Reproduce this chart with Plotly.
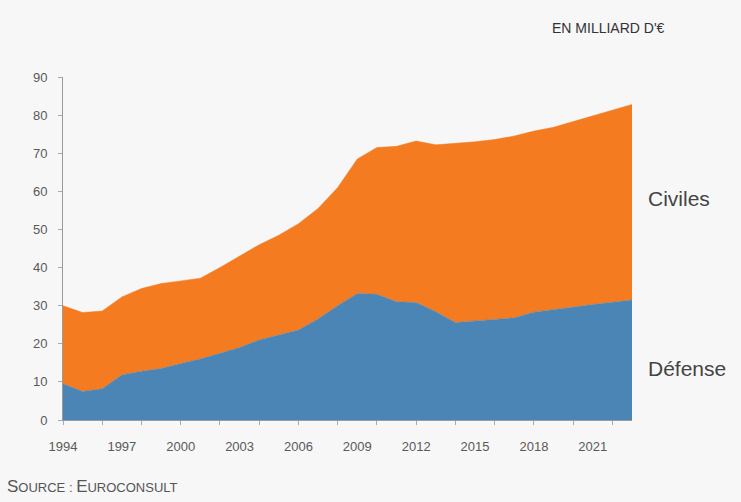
import plotly.graph_objects as go

# Dépenses spatiales institutionnelles mondiales, en milliards d'euros
annees = list(range(1994, 2024))
defense = [9.5, 7.5, 8.2, 11.8, 12.8, 13.5, 14.8, 16.0, 17.5, 19.0,
           21.0, 22.3, 23.6, 26.5, 30.0, 33.2, 33.0, 31.0, 30.8, 28.4,
           25.6, 26.0, 26.4, 26.8, 28.3, 29.0, 29.7, 30.3, 30.9, 31.5]
civiles = [20.5, 20.7, 20.4, 20.5, 21.7, 22.3, 21.7, 21.2, 22.5, 24.0,
           25.0, 26.2, 27.9, 29.0, 31.0, 35.3, 38.5, 40.8, 42.4, 43.8,
           46.9, 47.0, 47.2, 47.7, 47.5, 47.8, 48.6, 49.5, 50.3, 51.3]
annees_etiquetees = list(range(1994, 2024, 3))
annees_graduees = list(range(1994, 2024, 2))
y_ticks = list(range(0, 100, 10))

BLEU = "#4a85b6"
ORANGE = "#f47b20"
GRIS = "#5a5a5a"
FOND = "#f7f7f7"

fig = go.Figure()
fig.add_trace(go.Scatter(
    x=annees, y=defense, name="Défense", stackgroup="s",
    mode="lines", line=dict(width=0.5, color=BLEU), fillcolor=BLEU,
))
fig.add_trace(go.Scatter(
    x=annees, y=civiles, name="Civiles", stackgroup="s",
    mode="lines", line=dict(width=0.5, color=ORANGE), fillcolor=ORANGE,
))

police = "Liberation Sans, Arial, sans-serif"

fig.update_layout(
    width=741, height=502,
    margin=dict(l=63, r=109, t=77, b=82),
    paper_bgcolor=FOND, plot_bgcolor=FOND,
    showlegend=False,
    font=dict(family=police, color=GRIS, size=13),
    xaxis=dict(
        range=[1994, 2023], tickmode="array", tickvals=annees_etiquetees,
        ticktext=[str(a) for a in annees_etiquetees],
        ticks="", showgrid=False, zeroline=False,
        showline=True, linecolor="#9a9a9a", linewidth=1,
        tickfont=dict(size=13, color=GRIS), ticklabelstandoff=14,
        minor=dict(tickmode="array", tickvals=annees_graduees,
                   ticks="outside", ticklen=4, tickcolor="#aaaaaa", showgrid=False),
    ),
    yaxis=dict(
        range=[0, 90], tickmode="array", tickvals=y_ticks,
        ticks="outside", ticklen=4, tickcolor="#aaaaaa",
        showgrid=False, zeroline=False,
        showline=True, linecolor="#9a9a9a", linewidth=1,
        tickfont=dict(size=13, color=GRIS), ticklabelstandoff=8,
    ),
)

# Étiquettes des séries à droite du graphique
etiquette = dict(family=police, size=21, color="#444444")
fig.add_annotation(text="Civiles", xref="paper", yref="y", x=(646 - 63) / 569, y=58,
                   xanchor="left", yanchor="middle", showarrow=False, font=etiquette)
fig.add_annotation(text="Défense", xref="paper", yref="y", x=(646 - 63) / 569, y=13.6,
                   xanchor="left", yanchor="middle", showarrow=False, font=etiquette)

# Unité en haut à droite
fig.add_annotation(text="EN MILLIARD D'€", xref="paper", yref="paper",
                   x=(608 - 63) / 569, y=1 + (77 - 28) / 343,
                   xanchor="center", yanchor="middle", showarrow=False,
                   font=dict(family=police, size=14, color="#333333"))

# Source en bas à gauche, en petites capitales
fig.add_annotation(
    text="<span style='font-size:17px'>S</span>OURCE : <span style='font-size:17px'>E</span>UROCONSULT",
    xref="paper", yref="paper", x=(5 - 63) / 569, y=-(486 - 420) / 343,
    xanchor="left", yanchor="middle", showarrow=False,
    font=dict(family=police, size=13, color="#555555"))

fig.write_html("out.html")
